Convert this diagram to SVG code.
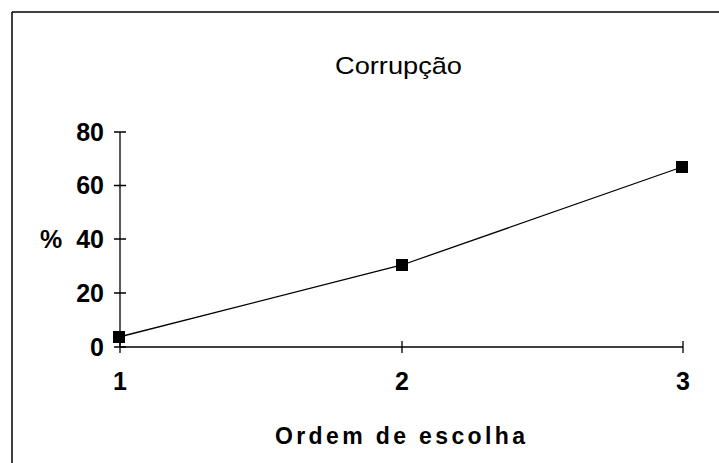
<svg xmlns="http://www.w3.org/2000/svg" width="719" height="463" viewBox="0 0 719 463">
<style>
.t{font-family:"Liberation Sans",Arial,sans-serif;fill:#000}
.num{font-size:25px;font-weight:bold}
.ax{stroke:#000;stroke-width:1.3;fill:none}
.mk{fill:#000}
</style>
<rect x="0" y="0" width="719" height="463" fill="#fff"/>
<g id="frame">
<line x1="12" y1="12" x2="719" y2="12" stroke="#000" stroke-width="1.5"/>
<line x1="12" y1="12" x2="12" y2="463" stroke="#000" stroke-width="1.5"/>
</g>
<g id="title"><text class="t" x="335" y="74" font-size="24" textLength="127" lengthAdjust="spacingAndGlyphs">Corrupção</text></g>
<g id="axes">
<line class="ax" x1="120" y1="132" x2="120" y2="347"/>
<line class="ax" x1="120" y1="347" x2="683" y2="347"/>
<path class="ax" d="M114 132H126M114 185.5H126M114 239H126M114 293H126M114 347H126M120 341V353M402 341V353M683 341V353"/>
</g>
<g id="ylabels">
<text class="t num" x="104" y="140.5" text-anchor="end">80</text>
<text class="t num" x="104" y="194" text-anchor="end">60</text>
<text class="t num" x="104" y="247.5" text-anchor="end">40</text>
<text class="t num" x="104" y="301.5" text-anchor="end">20</text>
<text class="t num" x="104" y="355.5" text-anchor="end">0</text>
<text class="t num" x="40" y="248">%</text>
</g>
<g id="xlabels">
<text class="t num" x="120" y="390" text-anchor="middle">1</text>
<text class="t num" x="402" y="390" text-anchor="middle">2</text>
<text class="t num" x="683" y="390" text-anchor="middle">3</text>
<text class="t" x="275" y="444" font-size="23" font-weight="bold" textLength="250" lengthAdjust="spacing">Ordem de escolha</text>
</g>
<g id="connectors">
<polyline class="ax" points="119,337 402,265 682,167"/>
</g>
<g id="markers">
<rect class="mk" x="113" y="331" width="12" height="12"/>
<rect class="mk" x="396" y="259" width="12" height="12"/>
<rect class="mk" x="676" y="161" width="12" height="12"/>
</g>
</svg>
